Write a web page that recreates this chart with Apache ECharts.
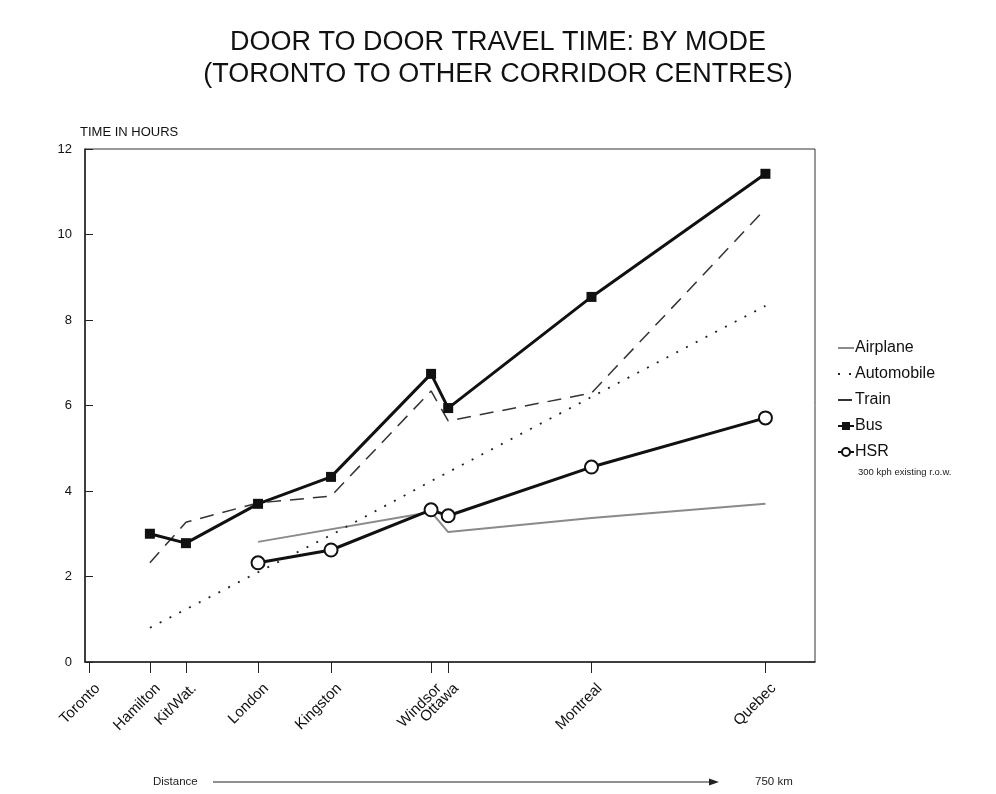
<!DOCTYPE html>
<html>
<head>
    <title></title>
    <meta charset="UTF-8">
    <script type="text/javascript" src="https://cdn.jsdelivr.net/npm/echarts@6/dist/echarts.min.js"></script>
    <style type="text/css">
        body { margin: 0; background: #fff; }
        #travel_chart { width: 996px; height: 794px; }
    </style>
</head>
<body>
<div id="travel_chart"></div>

<script type="text/javascript">
    // cities along the corridor and their distance from Toronto (km)
    var cities = ['Toronto', 'Hamilton', 'Kit/Wat.', 'London', 'Kingston', 'Windsor', 'Ottawa', 'Montreal', 'Quebec'];
    var distances = [0, 67, 107, 187, 268, 379, 398, 557, 750];

    // door to door hours, one value per city (null = not shown)
    var airplane   = [null, null, null, 2.81, null, 3.51, 3.04, 3.37, 3.70];
    var automobile = [null, 0.80, null, 2.10, 2.97, 4.23, 4.44, 6.20, 8.33];
    var train      = [null, 2.32, 3.27, 3.72, 3.88, 6.34, 5.64, 6.29, 10.60];
    var bus        = [null, 3.00, 2.78, 3.70, 4.33, 6.74, 5.94, 8.54, 11.42];
    var hsr        = [null, null, null, 2.32, 2.62, 3.56, 3.42, 4.56, 5.71];

    var yTicks = [0, 2, 4, 6, 8, 10, 12];

    function pairs(vals) {
        var out = [];
        for (var i = 0; i < vals.length; i++) {
            if (vals[i] !== null) out.push([distances[i], vals[i]]);
        }
        return out;
    }

    var chart = echarts.init(document.getElementById('travel_chart'));
    var font = '"Liberation Sans", Arial, sans-serif';
    var noSymbol = { opacity: 0 };

    chart.setOption({
        animation: false,
        textStyle: { fontFamily: font, color: '#111' },
        title: {
            text: 'DOOR TO DOOR TRAVEL TIME: BY MODE\n(TORONTO TO OTHER CORRIDOR CENTRES)',
            left: 'center',
            top: 22,
            textStyle: { fontSize: 27, fontWeight: 'normal', lineHeight: 32, color: '#111', fontFamily: font }
        },
        legend: {
            orient: 'vertical',
            left: 832,
            top: 335,
            itemGap: 10,
            itemWidth: 16,
            itemHeight: 10,
            textStyle: { fontSize: 16, color: '#111', padding: [0, 0, 0, -4] },
            data: [
                { name: 'Airplane', itemStyle: noSymbol },
                { name: 'Automobile', itemStyle: noSymbol },
                { name: 'Train', itemStyle: noSymbol },
                'Bus',
                'HSR'
            ]
        },
        grid: {
            left: 85, right: 181, top: 149, bottom: 132,
            show: true, borderColor: '#333', borderWidth: 1
        },
        xAxis: {
            type: 'value',
            min: -5,
            max: 805,
            splitLine: { show: false },
            axisLine: { onZero: false, lineStyle: { color: '#222', width: 1.5 } },
            axisTick: { customValues: distances, length: 11, lineStyle: { color: '#222' } },
            axisLabel: {
                customValues: distances,
                rotate: 45,
                margin: 16,
                fontSize: 15,
                color: '#111',
                verticalAlign: 'top',
                padding: [4, 0, 0, 0],
                formatter: function (v) { return cities[distances.indexOf(v)] || ''; }
            }
        },
        yAxis: {
            type: 'value',
            min: 0,
            max: 12,
            interval: 2,
            name: 'TIME IN HOURS',
            nameLocation: 'end',
            nameGap: 10,
            nameTextStyle: { align: 'left', fontSize: 13, color: '#111', padding: [0, 0, 0, -5] },
            splitLine: { show: false },
            axisLine: { show: true, onZero: false, lineStyle: { color: '#222', width: 1.5 } },
            axisTick: { inside: true, length: 8, lineStyle: { color: '#222' } },
            axisLabel: { fontSize: 13, color: '#111', margin: 13,
                formatter: function (v) { return yTicks.indexOf(v) >= 0 ? String(v) : ''; } }
        },
        series: [
            {
                name: 'Airplane', type: 'line', data: pairs(airplane),
                showSymbol: false, symbol: 'none',
                lineStyle: { color: '#8a8a8a', width: 2 },
                itemStyle: { color: '#8a8a8a' }
            },
            {
                name: 'Automobile', type: 'line', data: pairs(automobile),
                showSymbol: false, symbol: 'none',
                lineStyle: { color: '#222', width: 1.8, type: [2, 9] },
                itemStyle: { color: '#222' }
            },
            {
                name: 'Train', type: 'line', data: pairs(train),
                showSymbol: false, symbol: 'none',
                lineStyle: { color: '#333', width: 1.5, type: [14, 9] },
                itemStyle: { color: '#333' }
            },
            {
                name: 'Bus', type: 'line', data: pairs(bus),
                symbol: 'rect', symbolSize: 10,
                lineStyle: { color: '#111', width: 3 },
                itemStyle: { color: '#111' }
            },
            {
                name: 'HSR', type: 'line', data: pairs(hsr),
                symbol: 'emptyCircle', symbolSize: 13,
                lineStyle: { color: '#111', width: 3 },
                itemStyle: { color: '#111', borderWidth: 1.2 }
            }
        ],
        graphic: [
            { type: 'text', left: 858, top: 467, style: { text: '300 kph existing r.o.w.', fontSize: 9.5, fill: '#222', fontFamily: font } },
            { type: 'text', left: 153, top: 776, style: { text: 'Distance', fontSize: 11.5, fill: '#222', fontFamily: font } },
            { type: 'line', shape: { x1: 213, y1: 782, x2: 712, y2: 782 }, style: { stroke: '#222', lineWidth: 1.2 } },
            { type: 'polygon', shape: { points: [[719, 782], [709, 778.5], [709, 785.5]] }, style: { fill: '#222' } },
            { type: 'text', left: 755, top: 776, style: { text: '750 km', fontSize: 11.5, fill: '#222', fontFamily: font } }
        ]
    });
</script>

</body>
</html>
